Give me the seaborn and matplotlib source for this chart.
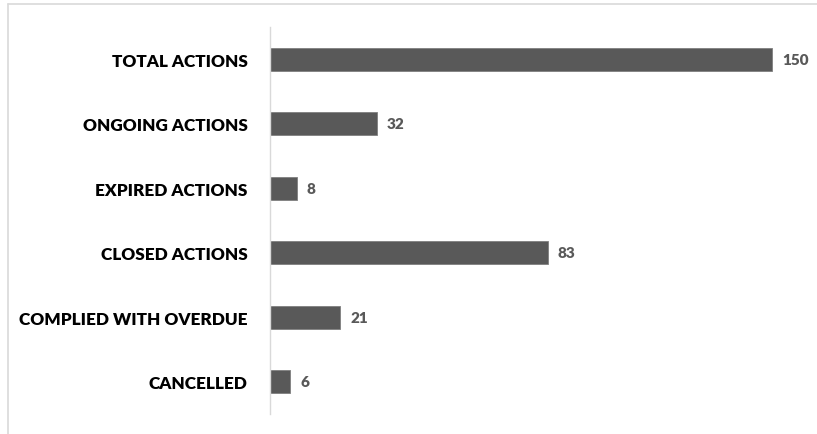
import pandas as pd
import matplotlib.pyplot as plt
import seaborn as sns

# chart data
categories = ["TOTAL ACTIONS", "ONGOING ACTIONS", "EXPIRED ACTIONS",
              "CLOSED ACTIONS", "COMPLIED WITH OVERDUE", "CANCELLED"]
counts = [150, 32, 8, 83, 21, 6]

df = pd.DataFrame({"category": categories, "count": counts})

sns.set_style("white")
plt.rcParams['font.family'] = ['Lato', 'DejaVu Sans']

fig = plt.figure(figsize=(8.17, 4.35), dpi=100)
ax = fig.add_axes([270 / 817, 20 / 435, 545 / 817, 387 / 435])

sns.barplot(data=df, x="count", y="category", color="#595959",
            width=0.36, edgecolor="#7f7f7f", linewidth=0.6, saturation=1, ax=ax)

for i, v in enumerate(counts):
    ax.text(v + 3, i, str(v), va="center", ha="left", fontsize=11,
            fontweight="heavy", color="#595959")

ax.set_xlim(0, 545 / 3.347)
ax.set_ylim(5.5, -0.5)
ax.set_xlabel("")
ax.set_ylabel("")
ax.set_xticks([])
ax.tick_params(axis="y", length=0, pad=16)
for lab in ax.get_yticklabels():
    lab.set_fontweight("heavy")
    lab.set_fontsize(12.3)
    lab.set_color("black")

for s in ["top", "right", "bottom"]:
    ax.spines[s].set_visible(False)
ax.spines["left"].set_color("#d9d9d9")
ax.spines["left"].set_linewidth(1)

# outer chart frame (top and left edges visible)
fig.add_artist(plt.Line2D([8 / 817, 1], [1 - 5 / 435, 1 - 5 / 435],
                          color="#d9d9d9", lw=1.2, transform=fig.transFigure))
fig.add_artist(plt.Line2D([8 / 817, 8 / 817], [0, 1 - 5 / 435],
                          color="#d9d9d9", lw=1.2, transform=fig.transFigure))

fig.savefig("out.png", dpi=100)
